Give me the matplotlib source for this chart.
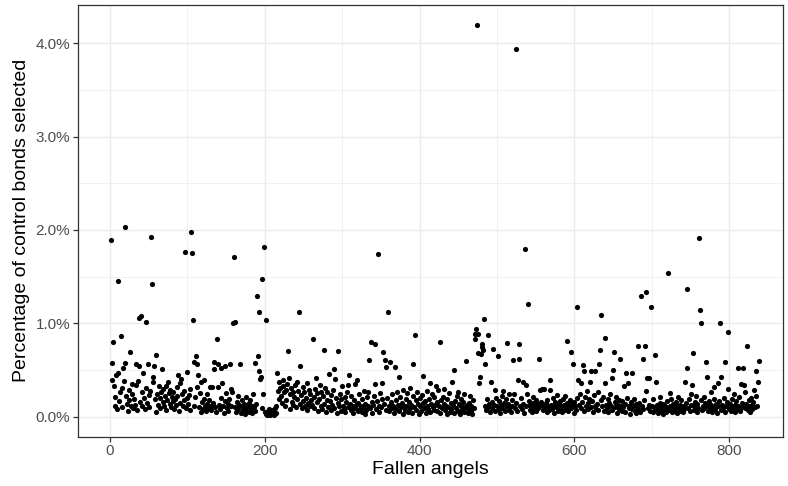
import matplotlib
matplotlib.use("Agg")
import matplotlib.pyplot as plt
import numpy as np
from matplotlib.ticker import FuncFormatter, MultipleLocator

# share of control bonds selected (%), one value per fallen angel (1..838)
pct_selected = [
    1.89, 0.58, 0.39, 0.80, 0.33, 0.12, 0.21, 0.45, 0.08, 0.47, 1.45, 0.17, 0.27, 0.86, 0.10, 0.31, 0.52, 0.38, 2.03, 0.58,
    0.22, 0.14, 0.06, 0.29, 0.18, 0.69, 0.11, 0.24, 0.35, 0.09, 0.19, 0.13, 0.34, 0.56, 0.07, 0.38, 0.54, 1.06, 0.16, 1.08,
    0.26, 0.12, 0.47, 0.20, 0.08, 1.01, 0.31, 0.15, 0.56, 0.23, 0.10, 0.28, 1.92, 1.42, 0.37, 0.43, 0.54, 0.19, 0.05, 0.66,
    0.24, 0.13, 0.33, 0.09, 0.20, 0.27, 0.51, 0.16, 0.30, 0.11, 0.22, 0.33, 0.07, 0.18, 0.37, 0.25, 0.14, 0.29, 0.10, 0.21,
    0.17, 0.26, 0.08, 0.19, 0.13, 0.32, 0.22, 0.45, 0.06, 0.36, 0.15, 0.40, 0.24, 0.11, 0.18, 0.28, 1.76, 0.09, 0.20, 0.48,
    0.14, 0.23, 0.07, 0.30, 1.98, 1.75, 1.04, 0.12, 0.59, 0.21, 0.65, 0.32, 0.56, 0.45, 0.10, 0.25, 0.05, 0.37, 0.16, 0.08,
    0.19, 0.39, 0.11, 0.06, 0.24, 0.14, 0.09, 0.18, 0.32, 0.12, 0.07, 0.32, 0.15, 0.51, 0.59, 0.10, 0.05, 0.83, 0.32, 0.57,
    0.13, 0.08, 0.20, 0.52, 0.36, 0.11, 0.04, 0.54, 0.17, 0.25, 0.09, 0.14, 0.06, 0.19, 0.57, 0.30, 0.12, 0.27, 1.00, 1.71,
    1.01, 0.10, 0.05, 0.16, 0.08, 0.22, 0.13, 0.57, 0.04, 0.11, 0.18, 0.07, 0.14, 0.03, 0.09, 0.21, 0.06, 0.12, 0.15, 0.05,
    0.18, 0.08, 0.12, 0.04, 0.24, 0.10, 0.58, 0.06, 0.14, 1.29, 0.65, 1.12, 0.49, 0.40, 0.43, 0.09, 1.47, 0.24, 1.82, 0.05,
    0.03, 1.04, 0.02, 0.06, 0.03, 0.08, 0.02, 0.04, 0.07, 0.03, 0.05, 0.02, 0.09, 0.04, 0.12, 0.47, 0.28, 0.19, 0.37, 0.31,
    0.22, 0.15, 0.33, 0.39, 0.26, 0.11, 0.29, 0.18, 0.35, 0.70, 0.42, 0.24, 0.08, 0.31, 0.16, 0.27, 0.13, 0.21, 0.34, 0.10,
    0.37, 0.19, 0.28, 1.12, 0.14, 0.54, 0.23, 0.09, 0.32, 0.17, 0.26, 0.12, 0.20, 0.07, 0.36, 0.15, 0.29, 0.11, 0.24, 0.18,
    0.13, 0.83, 0.21, 0.09, 0.30, 0.41, 0.16, 0.25, 0.06, 0.19, 0.34, 0.12, 0.27, 0.08, 0.22, 0.71, 0.14, 0.31, 0.05, 0.18,
    0.26, 0.10, 0.46, 0.17, 0.07, 0.23, 0.13, 0.29, 0.51, 0.09, 0.40, 0.20, 0.04, 0.15, 0.70, 0.11, 0.24, 0.06, 0.19, 0.33,
    0.12, 0.08, 0.21, 0.05, 0.16, 0.27, 0.34, 0.10, 0.45, 0.14, 0.07, 0.22, 0.11, 0.04, 0.18, 0.09, 0.35, 0.13, 0.39, 0.06,
    0.15, 0.24, 0.08, 0.12, 0.05, 0.19, 0.10, 0.28, 0.03, 0.14, 0.07, 0.21, 0.11, 0.26, 0.61, 0.09, 0.80, 0.16, 0.04, 0.13,
    0.22, 0.78, 0.35, 0.08, 0.17, 1.74, 0.12, 0.05, 0.25, 0.10, 0.19, 0.36, 0.69, 0.14, 0.61, 0.53, 0.07, 0.20, 1.12, 0.11,
    0.06, 0.59, 0.16, 0.09, 0.24, 0.12, 0.04, 0.53, 0.18, 0.08, 0.27, 0.13, 0.43, 0.06, 0.21, 0.10, 0.15, 0.03, 0.29, 0.11,
    0.07, 0.19, 0.12, 0.25, 0.05, 0.16, 0.09, 0.31, 0.13, 0.04, 0.22, 0.57, 0.10, 0.87, 0.18, 0.07, 0.26, 0.14, 0.03, 0.20,
    0.11, 0.06, 0.23, 0.15, 0.44, 0.09, 0.17, 0.04, 0.28, 0.12, 0.08, 0.19, 0.36, 0.05, 0.14, 0.24, 0.10, 0.07, 0.21, 0.13,
    0.33, 0.16, 0.06, 0.29, 0.11, 0.04, 0.80, 0.18, 0.09, 0.21, 0.14, 0.30, 0.07, 0.12, 0.03, 0.19, 0.10, 0.25, 0.05, 0.15,
    0.08, 0.37, 0.13, 0.04, 0.50, 0.17, 0.09, 0.22, 0.27, 0.06, 0.14, 0.03, 0.11, 0.19, 0.07, 0.16, 0.05, 0.24, 0.10, 0.60,
    0.13, 0.08, 0.04, 0.15, 0.22, 0.06, 0.11, 0.03, 0.18, 0.09, 0.89, 0.83, 0.94, 4.20, 0.68, 0.89, 0.36, 0.43, 0.67, 0.75,
    0.78, 0.72, 1.05, 0.56, 0.12, 0.07, 0.19, 0.87, 0.10, 0.14, 0.05, 0.37, 0.16, 0.09, 0.73, 0.13, 0.29, 0.06, 0.20, 0.11,
    0.65, 0.08, 0.17, 0.04, 0.13, 0.22, 0.09, 0.28, 0.15, 0.06, 0.19, 0.11, 0.79, 0.14, 0.07, 0.24, 0.10, 0.05, 0.18, 0.12,
    0.61, 0.24, 0.09, 3.94, 0.15, 0.06, 0.39, 0.62, 0.78, 0.12, 0.20, 0.08, 0.37, 0.14, 0.04, 1.80, 0.34, 0.11, 0.24, 1.21,
    0.17, 0.07, 0.13, 0.10, 0.05, 0.21, 0.15, 0.08, 0.12, 0.18, 0.06, 0.14, 0.09, 0.62, 0.29, 0.11, 0.16, 0.30, 0.07, 0.13,
    0.30, 0.09, 0.15, 0.05, 0.18, 0.11, 0.07, 0.39, 0.29, 0.13, 0.08, 0.20, 0.12, 0.04, 0.16, 0.10, 0.14, 0.23, 0.06, 0.12,
    0.17, 0.08, 0.11, 0.05, 0.19, 0.13, 0.07, 0.22, 0.10, 0.81, 0.15, 0.06, 0.12, 0.18, 0.69, 0.09, 0.14, 0.57, 0.04, 0.16,
    0.11, 0.07, 0.20, 1.17, 0.39, 0.13, 0.24, 0.09, 0.36, 0.16, 0.55, 0.49, 0.06, 0.21, 0.12, 0.28, 0.08, 0.15, 0.19, 0.37,
    0.49, 0.10, 0.17, 0.05, 0.23, 0.12, 0.49, 0.08, 0.14, 0.26, 0.07, 0.57, 0.72, 1.09, 0.18, 0.11, 0.21, 0.06, 0.36, 0.84,
    0.13, 0.09, 0.19, 0.05, 0.15, 0.24, 0.11, 0.42, 0.07, 0.50, 0.69, 0.16, 0.10, 0.21, 0.04, 0.13, 0.18, 0.08, 0.62, 0.12,
    0.06, 0.17, 0.10, 0.33, 0.14, 0.05, 0.47, 0.20, 0.36, 0.09, 0.12, 0.03, 0.16, 0.47, 0.08, 0.11, 0.19, 0.06, 0.14, 0.04,
    0.10, 0.76, 0.07, 0.15, 0.05, 1.29, 0.12, 0.08, 0.62, 0.18, 0.76, 0.28, 1.34, 0.42, 0.09, 0.13, 0.42, 0.06, 1.17, 0.11,
    0.19, 0.05, 0.10, 0.66, 0.37, 0.08, 0.13, 0.04, 0.09, 0.15, 0.21, 0.06, 0.11, 0.03, 0.14, 0.08, 0.12, 0.05, 0.17, 0.09,
    1.54, 0.07, 0.12, 0.25, 0.19, 0.05, 0.10, 0.14, 0.06, 0.09, 0.16, 0.04, 0.11, 0.21, 0.08, 0.13, 0.06, 0.18, 0.10, 0.05,
    0.12, 0.08, 0.37, 0.15, 0.52, 1.37, 0.09, 0.19, 0.06, 0.13, 0.24, 0.34, 0.68, 0.11, 0.07, 0.16, 0.22, 0.05, 0.14, 0.09,
    1.91, 1.14, 1.00, 0.18, 0.07, 0.12, 0.21, 0.09, 0.15, 0.59, 0.43, 0.06, 0.11, 0.17, 0.08, 0.27, 0.13, 0.05, 0.10, 0.19,
    0.32, 0.08, 0.14, 0.04, 0.36, 0.11, 0.17, 1.00, 0.07, 0.43, 0.13, 0.09, 0.20, 0.05, 0.59, 0.12, 0.16, 0.30, 0.91, 0.08,
    0.14, 0.06, 0.11, 0.19, 0.09, 0.24, 0.05, 0.13, 0.17, 0.08, 0.52, 0.12, 0.21, 0.06, 0.35, 0.10, 0.15, 0.52, 0.34, 0.09,
    0.27, 0.14, 0.76, 0.07, 0.18, 0.11, 0.05, 0.20, 0.13, 0.08, 0.16, 0.29, 0.10, 0.49, 0.22, 0.12, 0.37, 0.60,
]
angel_idx = np.arange(1, len(pct_selected) + 1)

x_ticks = [0, 200, 400, 600, 800]
y_ticks = [0.0, 1.0, 2.0, 3.0, 4.0]

plt.rcParams["font.family"] = ["Liberation Sans", "DejaVu Sans"]

fig = plt.figure(figsize=(7.88, 4.86), dpi=100)
ax = fig.add_axes([78 / 788, 1 - 436.7 / 486, (783 - 78) / 788, (436.7 - 5) / 486])

ax.scatter(angel_idx, pct_selected, s=14, color="black", linewidths=0, zorder=3)

ax.set_xlim(-41.3, 869.5)
ax.set_ylim(-0.214, 4.41)
ax.set_xticks(x_ticks)
ax.set_yticks(y_ticks)
ax.xaxis.set_minor_locator(MultipleLocator(100))
ax.yaxis.set_minor_locator(MultipleLocator(0.5))
ax.yaxis.set_major_formatter(FuncFormatter(lambda v, _: f"{v:.1f}%"))

ax.grid(which="major", color="#ebebeb", lw=1.0, zorder=0)
ax.grid(which="minor", color="#ebebeb", lw=0.5, zorder=0)
ax.set_axisbelow(True)
for s in ax.spines.values():
    s.set_color("#333333")
    s.set_linewidth(0.9)
ax.tick_params(which="major", length=3.5, width=0.9, color="#333333",
               labelcolor="#4d4d4d", labelsize=11, pad=2)
ax.tick_params(which="minor", length=0)

ax.set_xlabel("Fallen angels", fontsize=14, labelpad=2)
ax.set_ylabel("Percentage of control bonds selected", fontsize=14, labelpad=4)

fig.savefig("out.png", dpi=100)
